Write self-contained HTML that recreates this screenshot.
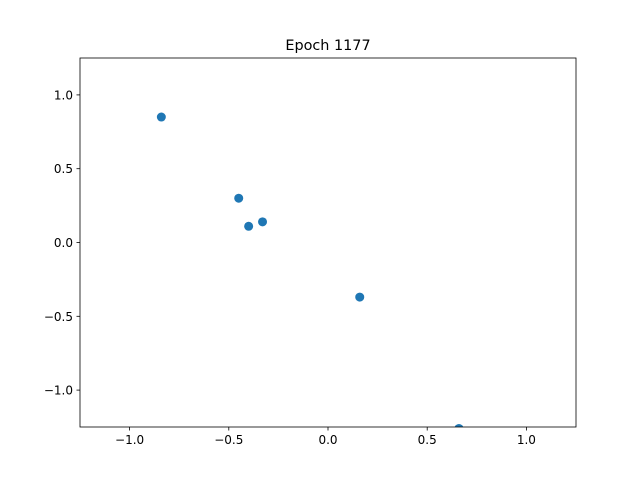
<!DOCTYPE html>
<html><head><meta charset="utf-8"><style>
body{margin:0;background:#fff}
svg{display:block;font-family:"DejaVu Sans","Liberation Sans",sans-serif}
</style></head><body>
<svg id="chart" width="640" height="480" viewBox="0 0 640 480">
<defs><clipPath id="clip"><rect x="80" y="58" width="496" height="369"/></clipPath></defs>
<rect x="0" y="0" width="640" height="480" fill="#fff"/>
<text x="328" y="50" text-anchor="middle" font-size="14.4">Epoch 1177</text>
<g id="points" clip-path="url(#clip)"></g>
<g id="axes"></g>
<rect x="80" y="58" width="496" height="369" fill="none" stroke="#000" stroke-width="0.8"/>
</svg>
<script>
const xs = [-0.84, -0.45, -0.40, -0.33, 0.16, 0.66];
const ys = [0.85, 0.30, 0.11, 0.14, -0.37, -1.26];
const xTicks = [-1.0, -0.5, 0.0, 0.5, 1.0];
const yTicks = [-1.0, -0.5, 0.0, 0.5, 1.0];
const xTickLabels = ["\u22121.0", "\u22120.5", "0.0", "0.5", "1.0"];
const yTickLabels = ["\u22121.0", "\u22120.5", "0.0", "0.5", "1.0"];
const L=80,R=576,T=58,B=427,min=-1.25,max=1.25;
const sx=v=>L+(v-min)/(max-min)*(R-L);
const sy=v=>B-(v-min)/(max-min)*(B-T);
const NS="http://www.w3.org/2000/svg";
const pts=document.getElementById('points'), ax=document.getElementById('axes');
xs.forEach((x,i)=>{
  const c=document.createElementNS(NS,'circle');
  c.setAttribute('cx',sx(x));c.setAttribute('cy',sy(ys[i]));c.setAttribute('r',4.5);c.setAttribute('fill','#1f77b4');
  
  
  pts.appendChild(c);
});
xTicks.forEach((t,i)=>{
  const l=document.createElementNS(NS,'line');
  l.setAttribute('x1',sx(t));l.setAttribute('x2',sx(t));l.setAttribute('y1',B);l.setAttribute('y2',B+3.5);l.setAttribute('stroke','#000');l.setAttribute('stroke-width','0.8');
  
  
  ax.appendChild(l);
  const tx=document.createElementNS(NS,'text');
  tx.setAttribute('x',sx(t));tx.setAttribute('y',B+17);tx.setAttribute('text-anchor','middle');tx.setAttribute('font-size','12');
  tx.textContent=xTickLabels[i];
  
  
  ax.appendChild(tx);
});
yTicks.forEach((t,i)=>{
  const l=document.createElementNS(NS,'line');
  l.setAttribute('x1',L-3.5);l.setAttribute('x2',L);l.setAttribute('y1',sy(t));l.setAttribute('y2',sy(t));l.setAttribute('stroke','#000');l.setAttribute('stroke-width','0.8');
  
  
  ax.appendChild(l);
  const tx=document.createElementNS(NS,'text');
  tx.setAttribute('x',L-7);tx.setAttribute('y',sy(t)+4.5);tx.setAttribute('text-anchor','end');tx.setAttribute('font-size','12');
  tx.textContent=yTickLabels[i];
  
  
  ax.appendChild(tx);
});
</script>
</body></html>
